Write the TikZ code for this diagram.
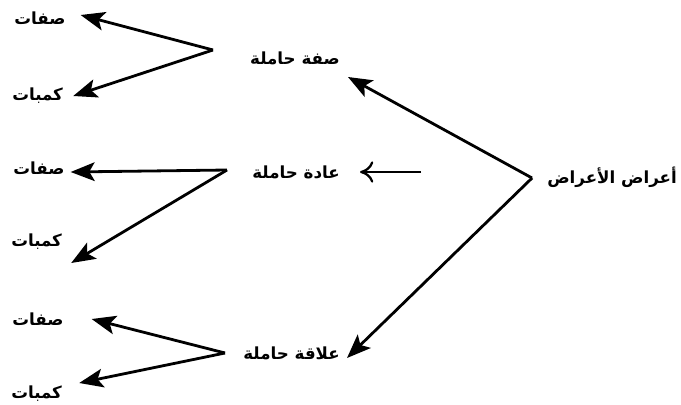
\documentclass[tikz,border=0pt]{standalone}
\usepackage{fontspec}
\newfontfamily\arabicfont[Script=Arabic]{DejaVu Sans}
\TeXXeTstate=1
\usetikzlibrary{arrows.meta}

\begin{document}
\begin{tikzpicture}[x=0.75pt,y=-0.75pt,auto=center,
    lbl/.style={inner sep=0pt,font=\arabicfont\bfseries\fontsize{12.5}{14}\selectfont},
    arr/.style={-{Stealth[length=18pt,width=14pt,inset=4pt]},line width=2.1pt},
    thin arr/.style={-{Computer Modern Rightarrow[length=10pt,width=16pt]},line width=1.7pt}]

        \useasboundingbox (0,0) rectangle (681,404);

        \node[lbl, anchor=east] (r) at (677,177) {\beginR أعراض الأعراض\endR};

        \node[lbl, anchor=east] (s1) at (340,58) {\beginR صفة حاملة\endR};
        \node[lbl, anchor=east] (s2) at (340,172) {\beginR عادة حاملة\endR};
        \node[lbl, anchor=east] (s3) at (340,353) {\beginR علاقة حاملة\endR};

        \node[lbl, anchor=west] (a1) at (14,18) {\beginR صفات\endR};
        \node[lbl, anchor=west] (b1) at (12,96) {\beginR كمبات\endR};
        \node[lbl, anchor=west] (a2) at (13,168) {\beginR صفات\endR};
        \node[lbl, anchor=west] (b2) at (11,242) {\beginR كمبات\endR};
        \node[lbl, anchor=west] (a3) at (12,319) {\beginR صفات\endR};
        \node[lbl, anchor=west] (b3) at (11,394) {\beginR كمبات\endR};

        % from the root
        \draw[arr] ([shift={(-15,1)}]r.west) -- ([shift={(8,19)}]s1.east);
        \draw[thin arr] ([shift={(-126,-5)}]r.west) -- ([xshift=15]s2.east);
        \draw[arr] ([shift={(-15,1)}]r.west) -- ([shift={(7,5)}]s3.east);

        % first group
        \draw[arr] ([shift={(-127,-8)}]s1.east) -- ([shift={(15,-3)}]a1.east);
        \draw[arr] ([shift={(-127,-8)}]s1.east) -- ([shift={(10,0)}]b1.east);
        % second group
        \draw[arr] ([shift={(-113,-2)}]s2.east) -- ([shift={(6,4)}]a2.east);
        \draw[arr] ([shift={(-113,-2)}]s2.east) -- ([shift={(9,21)}]b2.east);
        % third group
        \draw[arr] ([shift={(-115,0)}]s3.east) -- ([shift={(28,0)}]a3.east);
        \draw[arr] ([shift={(-115,0)}]s3.east) -- ([shift={(17,-11)}]b3.east);

    \end{tikzpicture}
\end{document}
